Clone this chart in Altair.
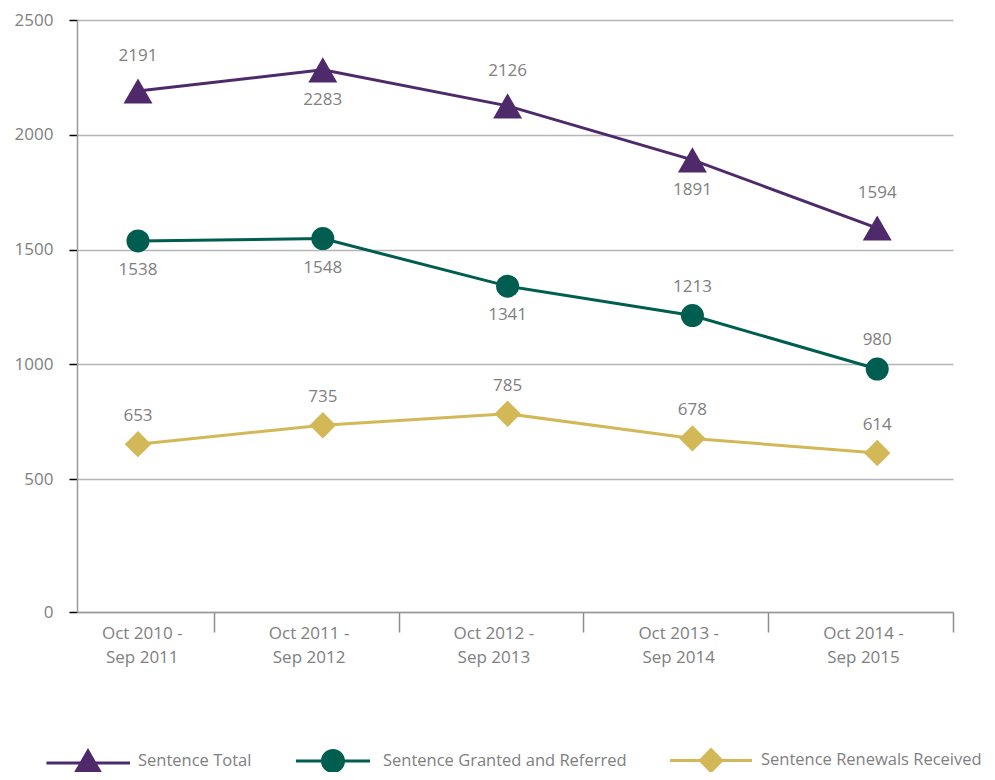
import json
import altair as alt
import pandas as pd

# ---- data ----
periods = ["Oct 2010 - Sep 2011", "Oct 2011 - Sep 2012", "Oct 2012 - Sep 2013",
           "Oct 2013 - Sep 2014", "Oct 2014 - Sep 2015"]
series_names = ["Sentence Total", "Sentence Granted and Referred", "Sentence Renewals Received"]
sentence_total = [2191, 2283, 2126, 1891, 1594]
granted_referred = [1538, 1548, 1341, 1213, 980]
renewals_received = [653, 735, 785, 678, 614]
# where each value label sits relative to its marker
side_total = ["above", "below", "above", "below", "above"]
side_granted = ["below", "below", "below", "above", "above"]
side_renewals = ["above", "above", "above", "above", "above"]
y_ticks = [500, 1000, 1500, 2000, 2500]

colors = ["#4E2A6A", "#005E50", "#D3B857"]
shapes = ["triangle-up", "circle", "diamond"]
sizes = [840, 530, 700]
dy_above = [-35, -29, -28]
dy_below = [30, 29, 29]
GRAY = "#808080"
FONT = "Open Sans"

rows = []
for name, vals, sides in zip(series_names,
                             [sentence_total, granted_referred, renewals_received],
                             [side_total, side_granted, side_renewals]):
    for i, (p, v, s) in enumerate(zip(periods, vals, sides)):
        rows.append({"idx": i, "period": p, "series": name, "value": v, "side": s})
df = pd.DataFrame(rows)

Y_MIN = -78
xscale = alt.Scale(domain=[-0.33, 4.41], nice=False, zero=False)
yscale = alt.Scale(domain=[Y_MIN, 2500], nice=False, zero=False)

label_lines = [p.split(" - ") for p in periods]
label_lines = [[a + " -", b] for a, b in label_lines]
x_label_expr = json.dumps(label_lines) + "[round(datum.value - 0.41)]"

x_axis = alt.Axis(
    values=[i + 0.41 for i in range(len(periods))],
    labelExpr=x_label_expr, title=None, grid=False,
    labelFont=FONT, labelFontSize=17, labelColor=GRAY, labelLineHeight=24,
    labelOverlap=False, labelFlush=False, labelBound=False,
    labelOffset={"condition": {"test": "datum.value < 1", "value": -72}, "value": -90},
    labelPadding=-7, labelBaseline="top",
    tickSize=20, tickColor="#8c8c8c", tickWidth=1.5,
    domainColor="#9a9a9a", domainWidth=1.5,
)
y_axis = alt.Axis(
    values=[Y_MIN] + y_ticks, format="d",
    labelExpr="datum.value < 0 ? '0' : datum.label", title=None,
    labelFont=FONT, labelFontSize=17, labelColor=GRAY, labelPadding=16,
    labelOverlap=False, labelFlush=False, labelBound=False,
    tickSize=8, tickColor="#000000", tickWidth=1.5,
    grid=True, gridColor="#b5b5b5", gridWidth=1.3,
    domainColor="#9a9a9a", domainWidth=1.5,
)

base = alt.Chart(df)
layers = []
for k, name in enumerate(series_names):
    sub = base.transform_filter(alt.datum.series == name)
    line = sub.mark_line(color=colors[k], strokeWidth=3).encode(
        x=alt.X("idx:Q", scale=xscale, axis=x_axis),
        y=alt.Y("value:Q", scale=yscale, axis=y_axis),
    )
    pts = sub.mark_point(filled=True, opacity=1, color=colors[k], shape=shapes[k],
                         size=sizes[k], strokeWidth=0).encode(
        x=alt.X("idx:Q", scale=xscale), y=alt.Y("value:Q", scale=yscale))
    layers += [line, pts]

for k, name in enumerate(series_names):
    sub = base.transform_filter(alt.datum.series == name)
    for side, dy in (("above", dy_above[k]), ("below", dy_below[k])):
        t = sub.transform_filter(alt.datum.side == side).mark_text(
            font=FONT, fontSize=17, color=GRAY, baseline="middle", dy=dy).encode(
            x=alt.X("idx:Q", scale=xscale), y=alt.Y("value:Q", scale=yscale), text="value:Q")
        layers.append(t)

# legend symbols: line with a marker through the middle (units of sqrt(size)/2)
legend_paths = [
    "M-2.77,0.05 H2.8 V0.25 H-2.77 Z M0,-0.85 L0.97,0.85 L-0.97,0.85 Z",
    "M-2.47,-0.1 H2.47 V0.1 H-2.47 Z M-0.8,0 A0.8,0.8 0 1,1 0.8,0 A0.8,0.8 0 1,1 -0.8,0 Z",
    "M-2.73,-0.1 H2.73 V0.1 H-2.73 Z M0,-0.87 L0.85,0 L0,0.87 L-0.85,0 Z",
]
leg = alt.Legend(title=None, orient="none", direction="horizontal", columns=3,
                 legendX=-4, legendY=725, symbolSize=900, symbolStrokeWidth=0,
                 labelFont=FONT, labelFontSize=16.5, labelColor=GRAY, labelLimit=0,
                 labelOffset=35, columnPadding=43)
legend_layer = base.transform_filter("false").mark_point(filled=True, opacity=1).encode(
    x=alt.X("idx:Q", scale=xscale), y=alt.Y("value:Q", scale=yscale),
    color=alt.Color("series:N", scale=alt.Scale(domain=series_names, range=colors), legend=leg),
    shape=alt.Shape("series:N", scale=alt.Scale(domain=series_names, range=legend_paths), legend=leg),
)
layers.append(legend_layer)

chart = alt.layer(*layers).properties(
    width=876, height=592,
    autosize=alt.AutoSizeParams(type="none"),
    padding={"left": 69, "top": 12, "right": 34, "bottom": 160},
    background="white",
).configure_view(stroke=None)

chart.save("out.html", embed_options={"renderer": "svg", "actions": False})
